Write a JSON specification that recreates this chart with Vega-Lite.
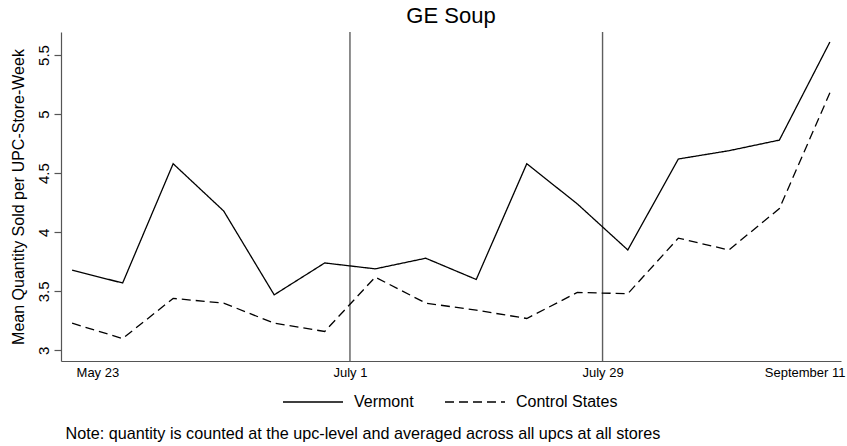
{
  "$schema": "https://vega.github.io/schema/vega-lite/v6.json",
  "width": 780,
  "height": 329,
  "autosize": "none",
  "padding": {"left": 61, "top": 32, "right": 6, "bottom": 85},
  "background": "white",
  "title": {
    "text": "GE Soup",
    "anchor": "middle",
    "font": "Liberation Sans",
    "fontSize": 22,
    "fontWeight": "normal",
    "color": "black",
    "offset": 3
  },
  "datasets": {
    "series": [
      {"week": 0, "series": "Vermont", "qty": 3.68},
      {"week": 1, "series": "Vermont", "qty": 3.57},
      {"week": 2, "series": "Vermont", "qty": 4.58},
      {"week": 3, "series": "Vermont", "qty": 4.18},
      {"week": 4, "series": "Vermont", "qty": 3.47},
      {"week": 5, "series": "Vermont", "qty": 3.74},
      {"week": 6, "series": "Vermont", "qty": 3.69},
      {"week": 7, "series": "Vermont", "qty": 3.78},
      {"week": 8, "series": "Vermont", "qty": 3.6},
      {"week": 9, "series": "Vermont", "qty": 4.58},
      {"week": 10, "series": "Vermont", "qty": 4.24},
      {"week": 11, "series": "Vermont", "qty": 3.85},
      {"week": 12, "series": "Vermont", "qty": 4.62},
      {"week": 13, "series": "Vermont", "qty": 4.69},
      {"week": 14, "series": "Vermont", "qty": 4.78},
      {"week": 15, "series": "Vermont", "qty": 5.61},
      {"week": 0, "series": "Control States", "qty": 3.23},
      {"week": 1, "series": "Control States", "qty": 3.1},
      {"week": 2, "series": "Control States", "qty": 3.44},
      {"week": 3, "series": "Control States", "qty": 3.4},
      {"week": 4, "series": "Control States", "qty": 3.23},
      {"week": 5, "series": "Control States", "qty": 3.16},
      {"week": 6, "series": "Control States", "qty": 3.62},
      {"week": 7, "series": "Control States", "qty": 3.4},
      {"week": 8, "series": "Control States", "qty": 3.34},
      {"week": 9, "series": "Control States", "qty": 3.27},
      {"week": 10, "series": "Control States", "qty": 3.49},
      {"week": 11, "series": "Control States", "qty": 3.48},
      {"week": 12, "series": "Control States", "qty": 3.95},
      {"week": 13, "series": "Control States", "qty": 3.85},
      {"week": 14, "series": "Control States", "qty": 4.2},
      {"week": 15, "series": "Control States", "qty": 5.18}
    ],
    "events": [
      {"week": 5.5, "event": "July 1"},
      {"week": 10.5, "event": "July 29"}
    ]
  },
  "layer": [
    {
      "data": {"name": "events"},
      "mark": {"type": "rule", "color": "#5e5e5e", "strokeWidth": 1.4},
      "encoding": {
        "x": {"field": "week", "type": "quantitative"}
      }
    },
    {
      "data": {"name": "series"},
      "mark": {"type": "line", "color": "black", "strokeWidth": 1.3},
      "encoding": {
        "x": {
          "field": "week",
          "type": "quantitative",
          "scale": {"domain": [-0.22, 15.22], "nice": false, "zero": false},
          "axis": {
            "values": [0.5, 5.5, 10.5, 14.5],
            "labelExpr": "datum.value == 0.5 ? 'May 23' : datum.value == 5.5 ? 'July 1' : datum.value == 10.5 ? 'July 29' : 'September 11'",
            "ticks": false,
            "tickSize": 0,
            "labelPadding": 5,
            "labelFontSize": 13,
            "labelFlush": false,
            "labelOverlap": false,
            "labelBound": false,
            "grid": false,
            "title": "Note: quantity is counted at the upc-level and averaged across all upcs at all stores",
            "titleAnchor": "start",
            "titleAlign": "left",
            "titleBaseline": "middle",
            "titleX": 4,
            "titleY": 72,
            "titleFontSize": 16.2,
            "titleFontWeight": "normal"
          }
        },
        "y": {
          "field": "qty",
          "type": "quantitative",
          "scale": {"domain": [2.91, 5.695], "nice": false, "zero": false},
          "axis": {
            "values": [3, 3.5, 4, 4.5, 5, 5.5],
            "format": ".1~f",
            "tickSize": 7,
            "labelAngle": -90,
            "labelAlign": "center",
            "labelBaseline": "bottom",
            "labelPadding": 3,
            "labelFontSize": 15,
            "grid": false,
            "title": "Mean Quantity Sold per UPC-Store-Week",
            "titleFontSize": 16,
            "titleFontWeight": "normal",
            "titlePadding": 10
          }
        },
        "strokeDash": {
          "field": "series",
          "type": "nominal",
          "scale": {"domain": ["Vermont", "Control States"], "range": [[1, 0], [9, 5]]},
          "legend": {
            "title": null,
            "orient": "none",
            "direction": "horizontal",
            "legendX": 221,
            "legendY": 339,
            "symbolType": "stroke",
            "symbolSize": 3600,
            "symbolStrokeWidth": 1.3,
            "symbolStrokeColor": "black",
            "labelFontSize": 16,
            "labelOffset": 10,
            "columnPadding": 28,
            "padding": 0
          }
        }
      }
    }
  ],
  "config": {
    "view": {"stroke": null},
    "font": "Liberation Sans",
    "axis": {
      "domainColor": "#555555",
      "domainWidth": 1.2,
      "tickColor": "#555555",
      "tickWidth": 1.2,
      "labelColor": "black",
      "titleColor": "black",
      "labelFont": "Liberation Sans",
      "titleFont": "Liberation Sans"
    },
    "legend": {
      "labelColor": "black",
      "labelFont": "Liberation Sans"
    }
  }
}
